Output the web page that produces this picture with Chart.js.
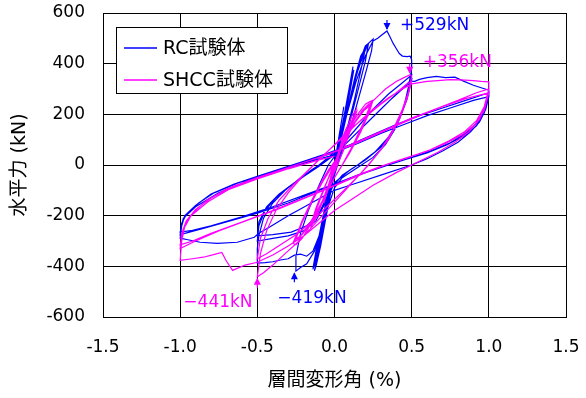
<!DOCTYPE html>
<html>
<head>
<meta charset="utf-8">
<script src="https://cdn.jsdelivr.net/npm/chart.js@4"></script>
<style>
  html, body { margin: 0; padding: 0; background: #fff; }
  #chart { display: block; }
</style>
</head>
<body>
<canvas id="chart" width="586" height="398"></canvas>
<script>
const FONT = "'DejaVu Sans', 'Noto Sans CJK JP', sans-serif";

const xTicks = [-1.5, -1.0, -0.5, 0.0, 0.5, 1.0, 1.5];
const yTicks = [-600, -400, -200, 0, 200, 400, 600];

const seriesNames = ['RC試験体', 'SHCC試験体'];
const seriesColors = ['#0000ff', '#ff00ff'];

// RC specimen: drift (%), load (kN), read along the hysteresis path
const rcPath = [
    [0, 0], [0.02, 80], [0.05, 190], [0.06, 230], [0.04, 150], [0.01, 40], [-0.02, -60], [-0.05, -170], [-0.06, -200], [-0.04, -120], [0, -10],
    [0.03, 90], [0.07, 220], [0.1, 320], [0.12, 388], [0.1, 320], [0.06, 170], [0.02, 40], [-0.02, -70], [-0.06, -200], [-0.1, -330], [-0.13, -400], [-0.11, -330], [-0.06, -170], [-0.01, -20],
    [0.04, 110], [0.08, 240], [0.11, 340], [0.125, 375], [0.1, 290], [0.05, 130], [0, 0], [-0.04, -120], [-0.08, -260], [-0.12, -370], [-0.14, -410], [-0.12, -340], [-0.07, -190], [-0.02, -40],
    [0.04, 100], [0.1, 260], [0.15, 370], [0.19, 440], [0.22, 480], [0.25, 497], [0.24, 450], [0.2, 360], [0.15, 250], [0.1, 140], [0.05, 50], [0, -30], [-0.04, -120], [-0.08, -240], [-0.13, -340], [-0.18, -390], [-0.22, -405], [-0.25, -419], [-0.25, -360], [-0.22, -270], [-0.17, -180], [-0.1, -80], [-0.04, 0],
    [0.02, 50], [0.08, 200], [0.13, 330], [0.17, 420], [0.2, 470], [0.22, 480], [0.2, 410], [0.15, 290], [0.1, 170], [0.05, 60], [0, -40], [-0.04, -140], [-0.08, -270], [-0.12, -370], [-0.14, -412], [-0.12, -350], [-0.07, -200], [-0.02, -50],
    [0.03, 80], [0.08, 210], [0.13, 340], [0.17, 430], [0.2, 460], [0.18, 400], [0.13, 260], [0.08, 140], [0.03, 30], [-0.01, -60], [-0.05, -190], [-0.09, -320], [-0.12, -400], [-0.13, -418], [-0.11, -350], [-0.06, -190], [-0.02, -60],
    [0.02, 40], [0.08, 200], [0.14, 330], [0.2, 430], [0.25, 490], [0.28, 500], [0.3, 510], [0.34, 529], [0.36, 505], [0.38, 480], [0.4, 460], [0.42, 440], [0.44, 430], [0.47, 428], [0.49, 430], [0.5, 415],
    [0.5, 380], [0.48, 310], [0.45, 230], [0.4, 150], [0.33, 80], [0.25, 30], [0.15, -10], [0.05, -50], [0, -90], [-0.05, -180], [-0.1, -280], [-0.14, -340], [-0.18, -360], [-0.22, -352], [-0.26, -356], [-0.3, -370], [-0.35, -375], [-0.4, -382], [-0.45, -385], [-0.5, -387],
    [-0.5, -330], [-0.49, -280], [-0.46, -210], [-0.4, -150], [-0.32, -100], [-0.22, -50], [-0.12, -10], [-0.04, 30], [0.05, 80], [0.15, 150], [0.25, 220], [0.35, 280], [0.43, 320], [0.5, 355],
    [0.48, 290], [0.44, 210], [0.38, 130], [0.3, 70], [0.2, 20], [0.1, -20], [0, -70], [-0.06, -150], [-0.12, -220], [-0.2, -260], [-0.3, -280], [-0.4, -290], [-0.5, -300],
    [-0.49, -240], [-0.45, -180], [-0.38, -130], [-0.3, -90], [-0.2, -45], [-0.1, -5], [0, 40], [0.1, 100], [0.2, 160], [0.3, 220], [0.4, 280], [0.47, 320], [0.5, 338],
    [0.47, 260], [0.42, 180], [0.35, 110], [0.26, 50], [0.15, 0], [0.05, -40], [-0.03, -100], [-0.1, -190], [-0.18, -240], [-0.28, -265], [-0.4, -275], [-0.5, -280],
    [-0.49, -225], [-0.44, -165], [-0.36, -115], [-0.26, -70], [-0.15, -20], [-0.05, 20], [0.05, 70], [0.15, 130], [0.25, 190], [0.35, 250], [0.44, 300], [0.5, 330],
    [0.52, 330], [0.55, 338], [0.6, 345], [0.66, 350], [0.72, 345], [0.78, 347], [0.84, 330], [0.9, 315], [0.95, 305], [1.0, 295],
    [1.0, 270], [0.98, 220], [0.94, 170], [0.88, 130], [0.8, 90], [0.7, 55], [0.6, 25], [0.5, 0], [0.3, -40], [0.1, -80], [0, -100], [-0.15, -150], [-0.3, -200], [-0.42, -245], [-0.49, -269], [-0.52, -285], [-0.63, -305], [-0.76, -309], [-0.87, -305], [-0.95, -295], [-1.0, -289],
    [-0.99, -240], [-0.97, -200], [-0.9, -160], [-0.8, -115], [-0.65, -75], [-0.5, -45], [-0.35, -15], [-0.2, 15], [-0.05, 45], [0.1, 80], [0.25, 120], [0.4, 160], [0.55, 195], [0.7, 225], [0.85, 255], [1.0, 285],
    [0.97, 220], [0.93, 170], [0.85, 125], [0.75, 88], [0.62, 55], [0.5, 30], [0.35, 0], [0.2, -30], [0.05, -65], [-0.1, -100], [-0.3, -150], [-0.5, -190], [-0.7, -225], [-0.85, -250], [-1.0, -275],
    [-0.99, -230], [-0.96, -195], [-0.88, -150], [-0.78, -110], [-0.62, -70], [-0.45, -38], [-0.3, -10], [-0.15, 20], [0, 50], [0.15, 85], [0.3, 125], [0.45, 160], [0.6, 195], [0.75, 225], [0.9, 255], [1.0, 270],
    [0.97, 205], [0.92, 155], [0.84, 115], [0.73, 80], [0.6, 48], [0.45, 20], [0.3, -10], [0.15, -40], [0, -75], [-0.2, -120], [-0.4, -165], [-0.6, -205], [-0.8, -240], [-0.92, -258], [-1.0, -265],
    [-0.98, -210], [-0.9, -165], [-0.75, -110], [-0.55, -60], [-0.35, -20], [-0.15, 15], [0, 40]
];

// SHCC specimen: drift (%), load (kN)
const shccPath = [
    [0, 0], [0.03, 60], [0.06, 120], [0.08, 150], [0.06, 100], [0.02, 20], [-0.02, -50], [-0.05, -110], [-0.07, -150], [-0.05, -100], [-0.01, -20],
    [0.03, 50], [0.07, 130], [0.11, 190], [0.14, 218], [0.12, 170], [0.07, 80], [0.02, 0], [-0.03, -70], [-0.08, -150], [-0.12, -210], [-0.15, -240], [-0.12, -180], [-0.07, -100], [-0.02, -20],
    [0.04, 60], [0.08, 130], [0.12, 185], [0.14, 205], [0.11, 150], [0.06, 60], [0.01, -10], [-0.04, -80], [-0.09, -160], [-0.13, -215], [-0.15, -230], [-0.12, -170], [-0.06, -80], [0, 0],
    [0.05, 80], [0.1, 150], [0.15, 200], [0.2, 240], [0.23, 250], [0.25, 255], [0.22, 200], [0.17, 130], [0.1, 50], [0.03, -20], [-0.04, -90], [-0.1, -170], [-0.16, -240], [-0.21, -290], [-0.25, -315], [-0.27, -309], [-0.22, -240], [-0.15, -150], [-0.08, -70], [0, 10],
    [0.06, 90], [0.12, 160], [0.18, 215], [0.22, 240], [0.24, 245], [0.2, 180], [0.14, 100], [0.07, 20], [0, -50], [-0.07, -130], [-0.13, -210], [-0.19, -260], [-0.24, -295], [-0.26, -300], [-0.21, -220], [-0.14, -130], [-0.06, -40], [0.01, 20],
    [0.07, 100], [0.13, 165], [0.19, 215], [0.23, 235], [0.19, 170], [0.12, 80], [0.05, 0], [-0.02, -70], [-0.09, -155], [-0.16, -230], [-0.22, -280], [-0.25, -292], [-0.2, -210], [-0.12, -110], [-0.04, -20], [0.02, 30],
    [0.08, 110], [0.14, 175], [0.2, 225], [0.27, 265], [0.33, 300], [0.4, 330], [0.45, 345], [0.49, 356], [0.5, 350],
    [0.48, 290], [0.44, 220], [0.38, 140], [0.3, 60], [0.22, 0], [0.13, -60], [0.04, -120], [-0.05, -180], [-0.14, -240], [-0.23, -300], [-0.32, -350], [-0.4, -395], [-0.46, -425], [-0.5, -441],
    [-0.48, -350], [-0.44, -260], [-0.38, -180], [-0.3, -110], [-0.2, -40], [-0.1, 20], [0, 80], [0.1, 140], [0.2, 190], [0.3, 240], [0.4, 285], [0.47, 320], [0.5, 330],
    [0.47, 260], [0.42, 180], [0.35, 100], [0.26, 30], [0.16, -40], [0.06, -100], [-0.05, -165], [-0.15, -225], [-0.25, -275], [-0.35, -315], [-0.44, -350], [-0.5, -370],
    [-0.48, -290], [-0.43, -210], [-0.36, -140], [-0.27, -80], [-0.17, -20], [-0.07, 40], [0.04, 100], [0.14, 160], [0.25, 220], [0.35, 265], [0.44, 300], [0.5, 320],
    [0.55, 325], [0.6, 330], [0.67, 333], [0.75, 337], [0.82, 336], [0.9, 333], [0.95, 330], [1.0, 328],
    [1.0, 300], [0.98, 240], [0.94, 180], [0.87, 130], [0.78, 90], [0.67, 50], [0.55, 15], [0.4, -30], [0.25, -80], [0.1, -140], [0, -180], [-0.1, -230], [-0.2, -280], [-0.3, -320], [-0.4, -355], [-0.47, -375], [-0.5, -384], [-0.58, -395], [-0.66, -416], [-0.7, -380], [-0.73, -345], [-0.79, -355], [-0.85, -364], [-0.92, -370], [-1.0, -376],
    [-0.99, -300], [-0.97, -240], [-0.92, -190], [-0.83, -140], [-0.7, -95], [-0.55, -60], [-0.4, -30], [-0.25, 0], [-0.1, 30], [0.05, 65], [0.2, 105], [0.35, 145], [0.5, 185], [0.65, 220], [0.8, 255], [0.92, 285], [1.0, 300],
    [0.97, 230], [0.92, 175], [0.84, 130], [0.74, 95], [0.62, 60], [0.48, 30], [0.33, 0], [0.18, -35], [0.03, -75], [-0.15, -120], [-0.35, -170], [-0.55, -215], [-0.75, -260], [-0.9, -300], [-1.0, -330],
    [-0.99, -270], [-0.96, -220], [-0.9, -175], [-0.8, -130], [-0.66, -85], [-0.5, -50], [-0.35, -20], [-0.2, 10], [-0.05, 40], [0.1, 75], [0.25, 115], [0.4, 155], [0.55, 195], [0.7, 230], [0.85, 262], [1.0, 285],
    [0.97, 215], [0.91, 160], [0.83, 120], [0.72, 85], [0.6, 55], [0.45, 25], [0.3, -5], [0.15, -40], [0, -80], [-0.2, -130], [-0.4, -180], [-0.6, -225], [-0.8, -270], [-0.92, -300], [-1.0, -315],
    [-0.98, -255], [-0.93, -200], [-0.82, -145], [-0.68, -95], [-0.5, -55], [-0.3, -15], [-0.1, 20], [0, 35]
];

// peak annotations
const peakLabels = ['+529kN', '+356kN', '\u2212441kN', '\u2212419kN'];
const peakDrift = [0.34, 0.487, -0.5, -0.26];
const peakLoad = [529, 356, -441, -419];
const peakSeries = [0, 1, 1, 0];

const toPoints = path => path.map(p => ({ x: p[0], y: p[1] }));

const framePlugin = {
    id: 'frame',
    afterDatasetsDraw(chart) {
        const ctx = chart.ctx;
        const area = chart.chartArea;
        const xs = chart.scales.x;
        const ys = chart.scales.y;
        ctx.save();

        ctx.strokeStyle = '#000';
        ctx.lineWidth = 1;
        ctx.strokeRect(Math.round(area.left) + 0.5, Math.round(area.top) + 0.5,
            Math.round(area.right - area.left), Math.round(area.bottom - area.top));

        // peak markers
        ctx.font = '17px ' + FONT;
        ctx.textBaseline = 'middle';
        peakLabels.forEach((text, i) => {
            const px = xs.getPixelForValue(peakDrift[i]);
            const py = ys.getPixelForValue(peakLoad[i]);
            const color = seriesColors[peakSeries[i]];
            const dir = peakLoad[i] > 0 ? -1 : 1;
            ctx.strokeStyle = color;
            ctx.fillStyle = color;
            ctx.lineWidth = 1.2;
            ctx.beginPath();
            ctx.moveTo(px, py + dir * 11);
            ctx.lineTo(px, py + dir * 2);
            ctx.stroke();
            ctx.beginPath();
            ctx.moveTo(px, py + dir * 1);
            ctx.lineTo(px - 3.5, py + dir * 8);
            ctx.lineTo(px + 3.5, py + dir * 8);
            ctx.closePath();
            ctx.fill();
            let tx, ty;
            if (i === 0) { tx = px + 13; ty = py - 5; }
            else if (i === 1) { tx = px + 13; ty = py - 12; }
            else if (i === 2) { tx = px - 74; ty = py + 26; }
            else { tx = px - 17; ty = py + 27; }
            ctx.textAlign = 'left';
            ctx.fillText(text, tx, ty);
        });

        // legend box
        const lx = area.left + 13;
        const ly = area.top + 14;
        ctx.fillStyle = '#fff';
        ctx.fillRect(lx, ly, 171, 66);
        ctx.strokeStyle = '#000';
        ctx.lineWidth = 1;
        ctx.strokeRect(Math.round(lx) + 0.5, Math.round(ly) + 0.5, 171, 66);
        ctx.font = '19px ' + FONT;
        ctx.textAlign = 'left';
        ctx.textBaseline = 'middle';
        seriesNames.forEach((name, i) => {
            const yy = ly + 21 + i * 32;
            ctx.strokeStyle = seriesColors[i];
            ctx.lineWidth = 1.5;
            ctx.beginPath();
            ctx.moveTo(lx + 8, yy);
            ctx.lineTo(lx + 41, yy);
            ctx.stroke();
            ctx.fillStyle = '#000';
            ctx.fillText(name, lx + 47, yy + 1);
        });
        ctx.restore();
    }
};

new Chart(document.getElementById('chart'), {
    type: 'scatter',
    data: {
        datasets: [
            {
                label: seriesNames[0],
                data: toPoints(rcPath),
                showLine: true,
                borderColor: seriesColors[0],
                borderWidth: 1.2,
                pointRadius: 0,
                fill: false,
                order: 1
            },
            {
                label: seriesNames[1],
                data: toPoints(shccPath),
                showLine: true,
                borderColor: seriesColors[1],
                borderWidth: 1.2,
                pointRadius: 0,
                fill: false,
                order: 0
            }
        ]
    },
    options: {
        responsive: false,
        animation: false,
        devicePixelRatio: 1,
        layout: { padding: { top: 13, right: 20, left: 0, bottom: 0 } },
        plugins: {
            legend: { display: false },
            tooltip: { enabled: false }
        },
        scales: {
            x: {
                type: 'linear',
                min: xTicks[0],
                max: xTicks[xTicks.length - 1],
                afterBuildTicks: scale => { scale.ticks = xTicks.map(v => ({ value: v })); },
                afterFit: scale => {
                    scale.height = 81;
                    scale.paddingLeft = 0;
                    scale.paddingRight = 0;
                },
                ticks: {
                    callback: v => v.toFixed(1),
                    color: '#000',
                    font: { family: FONT, size: 17 },
                    padding: 20,
                    maxRotation: 0
                },
                grid: { color: '#000', lineWidth: 1, drawTicks: false },
                border: { color: '#000', width: 1 },
                title: {
                    display: true,
                    text: '層間変形角 (%)',
                    color: '#000',
                    font: { family: FONT, size: 19 },
                    padding: { top: 0, bottom: 6 }
                }
            },
            y: {
                type: 'linear',
                min: yTicks[0],
                max: yTicks[yTicks.length - 1],
                afterBuildTicks: scale => { scale.ticks = yTicks.map(v => ({ value: v })); },
                afterFit: scale => {
                    scale.width = 103;
                    scale.paddingTop = 0;
                    scale.paddingBottom = 0;
                },
                ticks: {
                    color: '#000',
                    font: { family: FONT, size: 17 },
                    padding: 18
                },
                grid: { color: '#000', lineWidth: 1, drawTicks: false },
                border: { color: '#000', width: 1 },
                title: {
                    display: true,
                    text: '水平力 (kN)',
                    color: '#000',
                    font: { family: FONT, size: 19 },
                    padding: { top: 9, bottom: 0 }
                }
            }
        }
    },
    plugins: [framePlugin]
});
</script>
</body>
</html>
